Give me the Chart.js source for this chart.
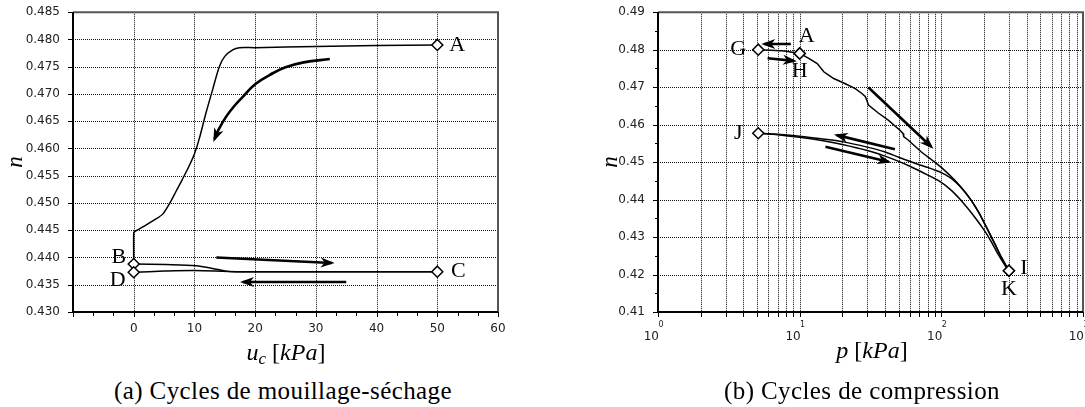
<!DOCTYPE html>
<html>
<head>
<meta charset="utf-8">
<script src="https://cdn.jsdelivr.net/npm/chart.js@4.4.1/dist/chart.umd.min.js"></script>
<style>
  html, body { margin: 0; padding: 0; background: #fff; width: 1085px; height: 407px; overflow: hidden; }
  #page { position: relative; width: 1085px; height: 407px; overflow: hidden; }
  canvas { position: absolute; top: 0; }
  #graphA { left: 0; }
  #graphB { left: 545px; }
  .txt { position: absolute; font-family: "Liberation Serif", "DejaVu Serif", serif; color: #000; white-space: nowrap; transform: translate(-50%, -50%); }
  .cap { font-size: 25px; letter-spacing: 0.4px; }
  .ax { font-size: 24px; }
  .ax sub { font-size: 17px; vertical-align: -4px; }
  .yt { font-size: 23px; font-style: italic; transform: translate(-50%, -50%) rotate(-90deg); }
</style>
</head>
<body>
<div id="page">
  <canvas id="graphA" width="545" height="372"></canvas>
  <canvas id="graphB" width="545" height="372"></canvas>
  <div class="txt yt" style="left:15px; top:162px;">n</div>
  <div class="txt ax" style="left:286px; top:354px;"><i>u</i><sub><i>c</i></sub> [<i>kPa</i>]</div>
  <div class="txt cap" style="left:283px; top:391px;">(a) Cycles de mouillage-séchage</div>
  <div class="txt yt" style="left:610px; top:162px;">n</div>
  <div class="txt ax" style="left:872px; top:350px;"><i>p</i> [<i>kPa</i>]</div>
  <div class="txt cap" style="left:862px; top:391px;">(b) Cycles de compression</div>
</div>
<script>
// ---------- (a) cycles de mouillage-séchage ----------
const ucTicks = [-10, 0, 10, 20, 30, 40, 50, 60];
const ucTickLabels = ["", "0", "10", "20", "30", "40", "50", "60"];
const ucMinor = [-6.67, -3.33, 3.33, 6.67, 13.33, 16.67, 23.33, 26.67, 33.33, 36.67, 43.33, 46.67, 53.33, 56.67];
const nTicksA = [0.430, 0.435, 0.440, 0.445, 0.450, 0.455, 0.460, 0.465, 0.470, 0.475, 0.480, 0.485];

// séchage A -> B
const ucSechage = [50, 40, 30, 20, 17.4, 16.3, 15.0, 14.1, 13.0, 11.9, 10.8, 10.0, 9.0, 8.0, 7.0, 6.2, 4.8, 3.4, 1.5, 0.1, 0, 0];
const nSechage = [0.4790, 0.4789, 0.4787, 0.4785, 0.4785, 0.4781, 0.4769, 0.4750, 0.4708, 0.4665, 0.4618, 0.4590, 0.4565, 0.4543, 0.4522, 0.4505, 0.4480, 0.4469, 0.4456, 0.4447, 0.4445, 0.4388];
// B -> C
const ucBC = [0, 5.3, 10.3, 13.0, 15.2, 16.9, 50];
const nBC = [0.4388, 0.4387, 0.4385, 0.4380, 0.4375, 0.4374, 0.4374];
// C -> D
const ucCD = [50, 17, 10, 5, 0];
const nCD = [0.4374, 0.4374, 0.4376, 0.4375, 0.4373];

const ucPoints = [50, 0, 50, 0];
const nPoints = [0.4790, 0.4388, 0.4374, 0.4373];
const nomsA = ["A", "B", "C", "D"];

const ucFlecheCourbe = [32.3, 28, 25, 22.9, 20, 18, 16.5, 15.2, 14, 13.3];
const nFlecheCourbe = [0.4764, 0.4758, 0.4749, 0.4738, 0.4718, 0.4695, 0.4677, 0.4658, 0.4635, 0.4617];
const ucFlecheDroite = [13.6, 32.6];
const nFlecheDroite = [0.4400, 0.4390];
const ucFlecheGauche = [35.0, 18.0];
const nFlecheGauche = [0.4355, 0.4355];

// ---------- (b) cycles de compression ----------
const pGrid = [1, 2, 3, 4, 5, 6, 7, 8, 9, 10, 20, 30, 40, 50, 60, 70, 80, 90,
  100, 200, 300, 400, 500, 600, 700, 800, 900, 1000];
const pDecades = [1, 10, 100, 1000];
const pExposants = ["0", "1", "2", "3"];
const nTicksB = [0.41, 0.42, 0.43, 0.44, 0.45, 0.46, 0.47, 0.48, 0.49];
const nMinorB = [0.415, 0.425, 0.435, 0.445, 0.455, 0.465, 0.475, 0.485];

const pGA = [5.1, 7.5, 10];
const nGA = [0.4800, 0.4797, 0.4790];
const pAI = [10, 11.6, 13.3, 14.8, 16.0, 17.4, 21.0, 24.7, 27.5, 29.0, 29.8, 30.6, 35.9, 42.2, 51, 53.8, 54.2, 58.3, 72.3, 89.8,
  100, 114, 127, 145, 164, 185, 211, 240, 262, 285, 300];
const nAI = [0.4790, 0.4777, 0.4763, 0.4741, 0.4732, 0.4723, 0.4709, 0.4696, 0.4683, 0.4675, 0.4665, 0.4652, 0.4631, 0.4612, 0.4585, 0.4576, 0.4568, 0.4559, 0.4527, 0.4500,
  0.4486, 0.4466, 0.4448, 0.4423, 0.4396, 0.4364, 0.4322, 0.4280, 0.4250, 0.4225, 0.4210];
const pIJ = [5.1, 7, 10, 15, 20.4, 30, 40.1, 50, 65, 80, 89.5, 100, 114, 127, 145, 164, 185, 211, 240, 262, 285, 300];
const nIJ = [0.4577, 0.4574, 0.4569, 0.4561, 0.4554, 0.4540, 0.4527, 0.4513, 0.4497, 0.4486, 0.4479, 0.4472, 0.4460, 0.4446, 0.4423, 0.4396, 0.4364, 0.4322, 0.4280, 0.4250, 0.4225, 0.4210];
const pJK = [5.1, 7, 10, 15, 20, 30, 40, 50, 60, 75, 95, 115, 137, 165, 200, 225, 249, 284, 300];
const nJK = [0.4577, 0.4573, 0.4566, 0.4556, 0.4547, 0.4531, 0.4516, 0.4502, 0.4489, 0.4471, 0.4451, 0.4428, 0.4399, 0.4362, 0.4319, 0.4288, 0.4257, 0.4222, 0.4210];

const pPoints = [5.1, 10, 10, 5.1, 300, 300];
const nPointsB = [0.4800, 0.4790, 0.4790, 0.4577, 0.4210, 0.4210];
const nomsB = ["G", "A", "H", "J", "I", "K"];

const pFleches = [[8.66, 5.63], [5.94, 9.11], [30.6, 84.9], [47, 18.3], [15.2, 42.3]];
const nFleches = [[0.4815, 0.4815], [0.4777, 0.4770], [0.4699, 0.4541], [0.4534, 0.4572], [0.4541, 0.4501]];

// ---------- helpers ----------
const pts = (xs, ys) => xs.map((x, i) => ({ x, y: ys[i] }));

function courbe(xs, ys, tension) {
  return { data: pts(xs, ys), showLine: true, pointRadius: 0, borderColor: "#000", borderWidth: 1.5, tension: tension || 0, order: 2 };
}
function fleche(xs, ys, tension) {
  return { data: pts(xs, ys), showLine: true, pointRadius: 0, borderColor: "#000", borderWidth: 2.6, tension: tension || 0, fleche: true, order: 1 };
}
function marqueurs(xs, ys, noms) {
  return { data: pts(xs, ys), showLine: false, pointStyle: "rectRot", pointRadius: 5.5, pointBackgroundColor: "#fff",
    pointBorderColor: "#000", pointBorderWidth: 1.5, noms, order: 0 };
}

const grilleCadre = {
  id: "grilleCadre",
  beforeDatasetsDraw(chart, args, o) {
    const { ctx, chartArea: a } = chart;
    const x = chart.scales.x, y = chart.scales.y;
    ctx.save();
    ctx.lineWidth = 1;
    ctx.strokeStyle = "#111";
    ctx.setLineDash([1, 1]);
    ctx.beginPath();
    o.xGrid.forEach(v => { const px = Math.round(x.getPixelForValue(v)) + 0.5; ctx.moveTo(px, a.top); ctx.lineTo(px, a.bottom); });
    o.yGrid.forEach(v => { const py = Math.round(y.getPixelForValue(v)) + 0.5; ctx.moveTo(a.left, py); ctx.lineTo(a.right, py); });
    ctx.stroke();
    ctx.setLineDash([]);
    ctx.strokeStyle = "#000";
    ctx.beginPath();
    o.xTicks.forEach(v => { const px = Math.round(x.getPixelForValue(v)) + 0.5; ctx.moveTo(px, a.bottom); ctx.lineTo(px, a.bottom + 5); });
    (o.xMinor || []).forEach(v => { const px = Math.round(x.getPixelForValue(v)) + 0.5; ctx.moveTo(px, a.bottom); ctx.lineTo(px, a.bottom + 4); });
    o.yTicks.forEach(v => { const py = Math.round(y.getPixelForValue(v)) + 0.5; ctx.moveTo(a.left - 5, py); ctx.lineTo(a.left, py); });
    (o.yMinor || []).forEach(v => { const py = Math.round(y.getPixelForValue(v)) + 0.5; ctx.moveTo(a.left - 3, py); ctx.lineTo(a.left, py); });
    ctx.stroke();
    ctx.lineWidth = 2;
    ctx.strokeStyle = "#555";
    ctx.beginPath();
    ctx.moveTo(a.left, a.top); ctx.lineTo(a.right, a.top); ctx.lineTo(a.right, a.bottom);
    ctx.stroke();
    ctx.strokeStyle = "#000";
    ctx.beginPath();
    ctx.moveTo(a.left, a.top); ctx.lineTo(a.left, a.bottom); ctx.lineTo(a.right, a.bottom);
    ctx.stroke();
    ctx.restore();
  }
};

const etiquettes = {
  id: "etiquettes",
  afterDatasetsDraw(chart, args, o) {
    const ctx = chart.ctx;
    ctx.save();
    ctx.fillStyle = "#000";
    chart.data.datasets.forEach((ds, i) => {
      const el = chart.getDatasetMeta(i).data;
      if (ds.fleche) {
        const tip = el[el.length - 1];
        let fx = el[el.length - 2].x, fy = el[el.length - 2].y;
        if (ds.tension && tip.cp1x !== undefined && Math.hypot(tip.cp1x - tip.x, tip.cp1y - tip.y) > 1) {
          fx = tip.cp1x; fy = tip.cp1y;
        }
        const ang = Math.atan2(tip.y - fy, tip.x - fx);
        ctx.save();
        ctx.translate(tip.x, tip.y);
        ctx.rotate(ang);
        ctx.beginPath();
        ctx.moveTo(3, 0); ctx.lineTo(-11, -5); ctx.lineTo(-7, 0); ctx.lineTo(-11, 5);
        ctx.closePath();
        ctx.fill();
        ctx.restore();
      }
      if (ds.noms) {
        ctx.font = '22px "Liberation Serif"';
        ctx.textAlign = "center";
        ctx.textBaseline = "middle";
        el.forEach((pt, j) => {
          const d = o.decalages[ds.noms[j]] || [0, 0];
          ctx.fillText(ds.noms[j], pt.x + d[0], pt.y + d[1]);
        });
      }
    });
    ctx.restore();
  }
};

const puissances = {
  id: "puissances",
  afterDraw(chart, args, o) {
    const ctx = chart.ctx, x = chart.scales.x, a = chart.chartArea;
    ctx.save();
    ctx.fillStyle = "#222";
    o.valeurs.forEach((v, i) => {
      const px = x.getPixelForValue(v);
      ctx.font = '12px "DejaVu Sans"';
      ctx.textAlign = "right";
      ctx.fillText("10", px + 1, a.bottom + 28);
      ctx.font = '8px "DejaVu Sans"';
      ctx.textAlign = "center";
      ctx.fillText(o.exposants[i], px + 3, a.bottom + 15);
    });
    ctx.restore();
  }
};

const policeTicks = { family: "DejaVu Sans", size: 12 };

function gerarGraficoA() {
  const ctx = document.getElementById("graphA").getContext("2d");
  new Chart(ctx, {
    type: "scatter",
    data: {
      datasets: [
        marqueurs(ucPoints, nPoints, nomsA),
        courbe(ucSechage, nSechage, 0.3),
        courbe(ucBC, nBC, 0.3),
        courbe(ucCD, nCD, 0.3),
        fleche(ucFlecheCourbe, nFlecheCourbe, 0.4),
        fleche(ucFlecheDroite, nFlecheDroite),
        fleche(ucFlecheGauche, nFlecheGauche)
      ]
    },
    options: {
      responsive: false,
      animation: false,
      layout: { padding: { top: 12, right: 47, bottom: 0, left: 0 } },
      plugins: {
        legend: { display: false },
        tooltip: { enabled: false },
        grilleCadre: { xGrid: ucTicks, yGrid: nTicksA, xTicks: ucTicks, xMinor: ucMinor, yTicks: nTicksA },
        etiquettes: { decalages: { A: [20, 0], B: [-15, -7], C: [21, 0], D: [-16, 8] } }
      },
      scales: {
        x: {
          type: "linear", min: -10, max: 60,
          grid: { display: false }, border: { display: false },
          afterBuildTicks: s => { s.ticks = ucTicks.map(v => ({ value: v })); },
          afterFit: s => { s.height = 60; },
          ticks: { font: policeTicks, color: "#222", padding: 2, maxRotation: 0,
            callback: v => ucTickLabels[ucTicks.indexOf(v)] ?? "" }
        },
        y: {
          type: "linear", min: 0.430, max: 0.485,
          grid: { display: false }, border: { display: false },
          afterBuildTicks: s => { s.ticks = nTicksA.map(v => ({ value: v })); },
          afterFit: s => { s.width = 73; },
          ticks: { font: policeTicks, color: "#222", padding: 5, callback: v => v.toFixed(3) }
        }
      }
    },
    plugins: [grilleCadre, etiquettes]
  });
}

function gerarGraficoB() {
  const ctx = document.getElementById("graphB").getContext("2d");
  new Chart(ctx, {
    type: "scatter",
    data: {
      datasets: [
        marqueurs(pPoints, nPointsB, nomsB),
        courbe(pGA, nGA, 0.2),
        courbe(pAI, nAI, 0),
        courbe(pIJ, nIJ, 0.2),
        courbe(pJK, nJK, 0.2),
        ...pFleches.map((px, i) => fleche(px, nFleches[i]))
      ]
    },
    options: {
      responsive: false,
      animation: false,
      layout: { padding: { top: 12, right: 4, bottom: 0, left: 0 } },
      plugins: {
        legend: { display: false },
        tooltip: { enabled: false },
        grilleCadre: { xGrid: pGrid, yGrid: nTicksB, xTicks: pGrid, yTicks: nTicksB, yMinor: nMinorB },
        etiquettes: { decalages: { G: [-20, 0], A: [7, -17], H: [0, 18], J: [-20, 0], I: [15, -3], K: [0, 18] } },
        puissances: { valeurs: pDecades, exposants: pExposants }
      },
      scales: {
        x: {
          type: "logarithmic", min: 1, max: 1000,
          grid: { display: false }, border: { display: false },
          afterFit: s => { s.height = 60; },
          ticks: { display: false }
        },
        y: {
          type: "linear", min: 0.41, max: 0.49,
          grid: { display: false }, border: { display: false },
          afterBuildTicks: s => { s.ticks = nTicksB.map(v => ({ value: v })); },
          afterFit: s => { s.width = 113; },
          ticks: { font: policeTicks, color: "#222", padding: 5, callback: v => v.toFixed(2) }
        }
      }
    },
    plugins: [grilleCadre, etiquettes, puissances]
  });
}

gerarGraficoA();
gerarGraficoB();
</script>
</body>
</html>
